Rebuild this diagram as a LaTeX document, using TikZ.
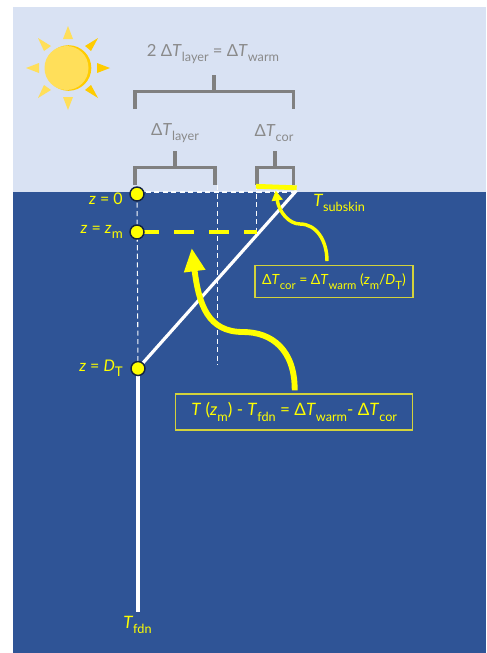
\documentclass[tikz,border=0pt]{standalone}
\usepackage{fontspec}
\setmainfont{Lato}
\usepackage{xcolor}
\usetikzlibrary{arrows.meta}
\definecolor{skyblue}{HTML}{D9E2F3}
\definecolor{oceanblue}{HTML}{2F5496}
\definecolor{bracketgray}{HTML}{808080}
\definecolor{graytext}{HTML}{8A8A8A}
\definecolor{sunlight}{HTML}{FFDF5A}
\definecolor{sundark}{HTML}{FFCC00}
\definecolor{markyellow}{HTML}{FFFF00}
\definecolor{dotnavy}{HTML}{14233F}
\definecolor{boxedge}{HTML}{D2D23C}
\newcommand{\lowtext}[2][9.5]{\raisebox{-0.6ex}{\fontsize{#1}{#1}\selectfont #2}}
\newcommand{\varT}{\textit{T}}
\tikzset{
  bracket/.style={draw=bracketgray, line width=2.3pt},
  graylabel/.style={text=graytext, font=\fontsize{12.5}{14}\selectfont, inner sep=0pt},
  zlabel/.style={text=markyellow, font=\fontsize{12}{14}\selectfont, inner sep=0pt, anchor=east},
  templabel/.style={text=markyellow, font=\fontsize{12.8}{14}\selectfont, inner sep=0pt},
  depthdot/.style={circle, draw=dotnavy, fill=markyellow, line width=1.1pt, minimum size=10.5pt, inner sep=0pt},
  guide/.style={draw=white!85!skyblue, line width=0.8pt, dash pattern=on 3.8pt off 2.6pt},
  eqbox/.style={draw=boxedge, line width=1pt, text=markyellow, inner sep=0pt}
}
\begin{document}
\begin{tikzpicture}[x=0.75pt, y=-0.75pt]
        \useasboundingbox (0,0) rectangle (486,653);
        \fill[skyblue] (13,7) rectangle (486,192);
        \fill[oceanblue] (13,192) rectangle (486,653);
        \fill[sundark] (68.5,68) circle (17.1pt);
        \fill[sunlight] (66.5,68) circle (16.5pt);
        \fill[sunlight] (68,26) -- (73,39) -- (63,39) -- cycle;
        \fill[sunlight] (26,68) -- (39,63) -- (39,73) -- cycle;
        \fill[sunlight] (68,110) -- (73,97) -- (63,97) -- cycle;
        \fill[sunlight] (38,38) -- (51,46) -- (44,51) -- cycle;
        \fill[sunlight] (38,98) -- (51,90) -- (44,85) -- cycle;
        \fill[sundark] (110,68) -- (97,63) -- (97,73) -- cycle;
        \fill[sundark] (98,38) -- (85,46) -- (91,51) -- cycle;
        \fill[sundark] (98,98) -- (85,90) -- (91,85) -- cycle;
        \draw[bracket] (135,109) -- (135,91.5) -- (293.5,91.5) -- (293.5,109);
        \draw[bracket] (214,91.5) -- (214,74.5);
        \draw[bracket] (135,185) -- (135,167.5) -- (215,167.5) -- (215,185);
        \draw[bracket] (175,167.5) -- (175,150.5);
        \draw[bracket] (257,185) -- (257,167.5) -- (293.5,167.5) -- (293.5,185);
        \draw[bracket] (275,167.5) -- (275,150.5);
        \node[graylabel] (warmsum) at (213,54) {2 Δ\varT\lowtext{layer} = Δ\varT\lowtext{warm}};
        \node[graylabel] (layerlabel) at (175,133) {Δ\varT\lowtext{layer}};
        \node[graylabel] (corlabel) at (274,133) {Δ\varT\lowtext{cor}};
        \coordinate (zeropt) at (137,194);
        \coordinate (zmpt) at (137,232);
        \coordinate (dtpt) at (138,368.5);
        \coordinate (surfacetop) at (296.5,190.5);
        \coordinate (surfaceleft) at (137,192);
        \coordinate (surfaceright) at (296.5,192);
        \coordinate (lineend) at (137,612);
        \coordinate (layertop) at (217.7,185);
        \coordinate (layerbottom) at (217.7,365);
        \coordinate (cortop) at (256.7,185);
        \coordinate (corbottom) at (256.7,232);
        \coordinate (dashstart) at (144,232);
        \coordinate (subskinleft) at (256,186.3);
        \coordinate (subskinright) at (296.7,187.8);
        \coordinate (warmtip) at (191.7,248);
        \coordinate (cortip) at (275.7,190.5);
        \draw[guide] (surfaceleft) -- (surfaceright);
        \draw[guide] (zeropt) -- (dtpt);
        \draw[guide] (layertop) -- (layerbottom);
        \draw[guide] (cortop) -- (corbottom);
        \draw[white, line width=2.4pt] (dtpt) -- (surfacetop);
        \draw[white, line width=3pt] (dtpt) -- (dtpt |- lineend);
        \draw[markyellow, line width=3.6pt] (subskinleft) -- (subskinright);
        \draw[markyellow, line width=3.6pt, dash pattern=on 15pt off 11.25pt, dash phase=3.75pt] (dashstart) -- (corbottom);
        \node[depthdot] (dotzero) at (zeropt) {};
        \node[depthdot] (dotzm) at (zmpt) {};
        \node[depthdot] (dotdt) at (dtpt) {};
        \node[zlabel] (zerolabel) at (123,199) {\textit{z} = 0};
        \node[zlabel] (zmlabel) at (123,232) {\textit{z} = \textit{z}\lowtext[10]{m}};
        \node[zlabel] (dtlabel) at (123,368) {\textit{z} = \textit{D}\lowtext[10]{T}};
        \node[templabel, anchor=west] (subskinlabel) at (313,203) {\varT\lowtext{subskin}};
        \node[templabel, anchor=west] (fdnlabel) at (123,625) {\varT\lowtext{fdn}};
        \node[eqbox, minimum width=118.5pt, minimum height=23.7pt, font=\fontsize{10.5}{12}\selectfont] (corbox) at (334,281.5) {Δ\varT\lowtext[8.5]{cor} = Δ\varT\lowtext[8.5]{warm} (\textit{z}\lowtext[8.5]{m}/\textit{D}\lowtext[8.5]{T})};
        \node[eqbox, minimum width=177.75pt, minimum height=27pt, font=\fontsize{12.8}{14}\selectfont] (fdnbox) at (294.2,412) {\varT{} (\textit{z}\lowtext{m}) - \varT\lowtext{fdn} = Δ\varT\lowtext{warm}- Δ\varT\lowtext{cor}};
        \draw[markyellow, line width=4.4pt, -{Triangle[width=15pt, length=17.5pt]}] (fdnbox.north) ++(0.5,-3) .. controls (295,350) and (272,332) .. (243,332) .. controls (208,332) and (199,305) .. (warmtip);
        \draw[markyellow, line width=2.6pt, -{Triangle[width=8pt, length=7.5pt]}] (corbox.north) ++(-7,-4) .. controls (327,240) and (316,224) .. (300,224) .. controls (289,224) and (279,212) .. (cortip);
      \end{tikzpicture}
\end{document}
